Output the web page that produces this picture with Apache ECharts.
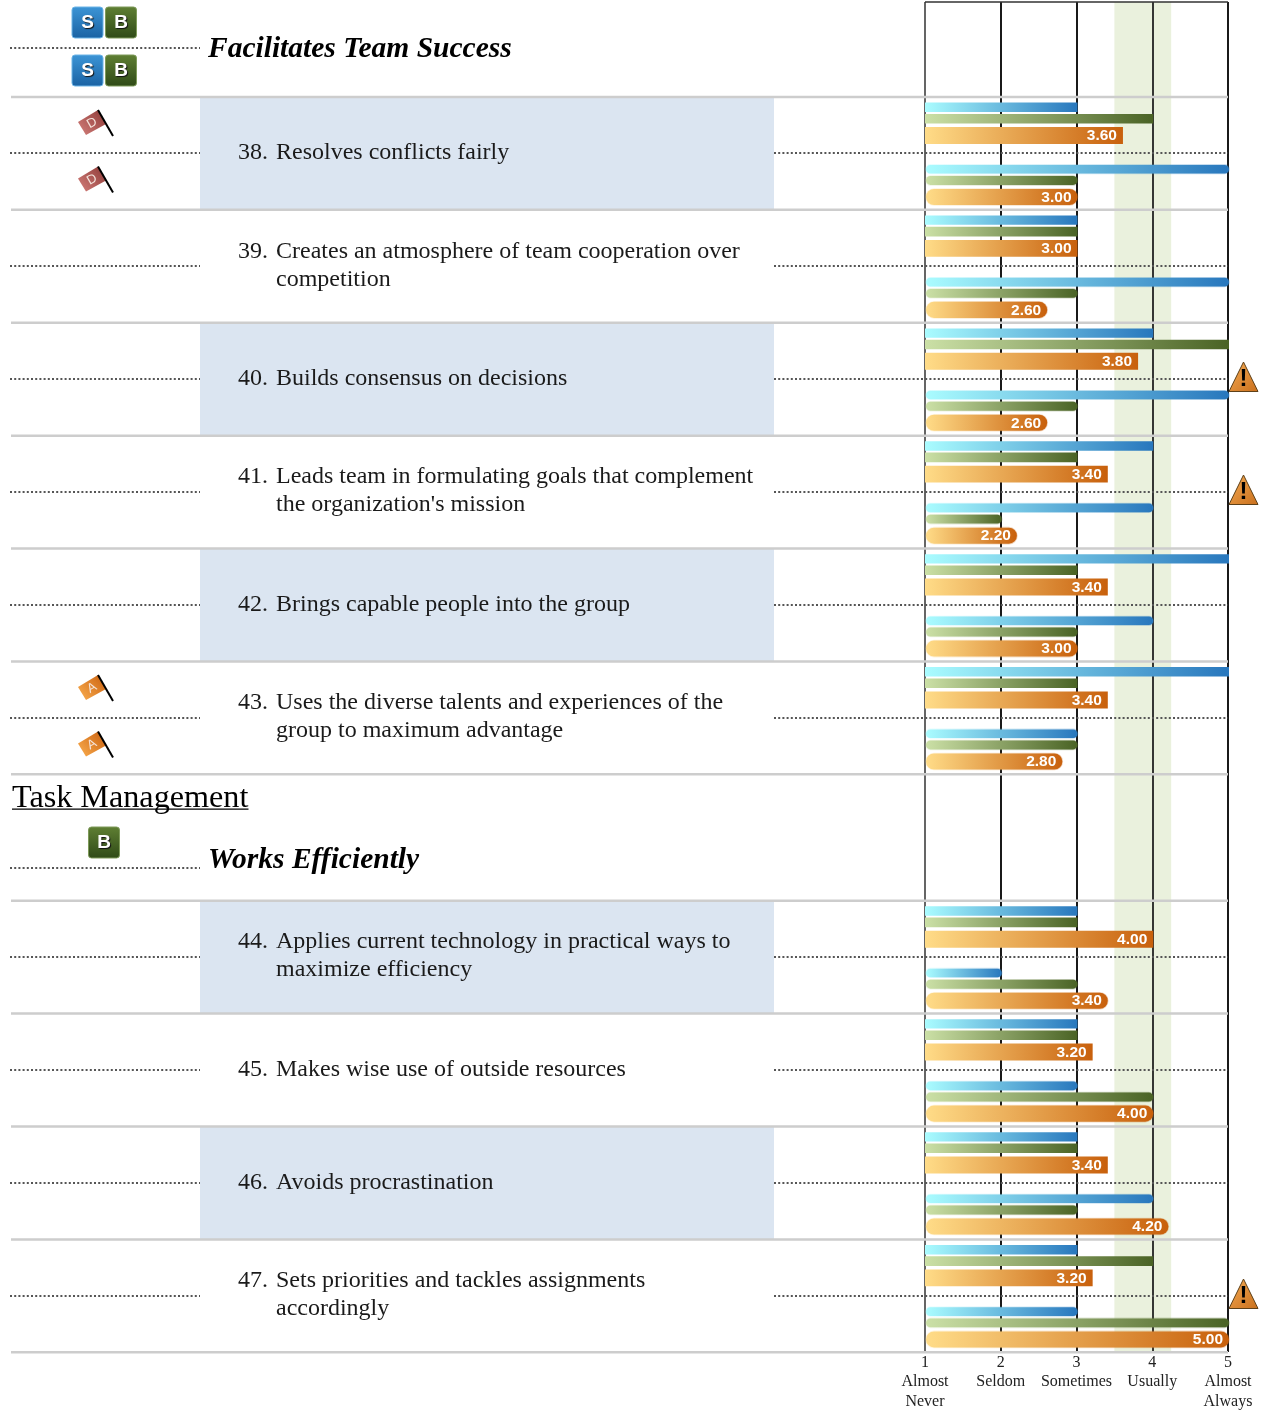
<!DOCTYPE html>
<html>
<head>
<meta charset="utf-8">
<style>html,body{margin:0;padding:0;background:#fff}#chart{width:1267px;height:1416px}</style>
<script src="https://cdn.jsdelivr.net/npm/echarts@6/dist/echarts.min.js"></script>
</head>
<body>
<div id="chart"></div>
<script>
// Rating scale
const tickLabels = ['1\nAlmost\nNever', '2\nSeldom', '3\nSometimes', '4\nUsually', '5\nAlmost\nAlways'];
const targetBand = [3.5, 4.25];

// Survey items
const itemNumbers = ['38.', '39.', '40.', '41.', '42.', '43.', '44.', '45.', '46.', '47.'];
const itemLines = [
  ['Resolves conflicts fairly'],
  ['Creates an atmosphere of team cooperation over', 'competition'],
  ['Builds consensus on decisions'],
  ['Leads team in formulating goals that complement', "the organization's mission"],
  ['Brings capable people into the group'],
  ['Uses the diverse talents and experiences of the', 'group to maximum advantage'],
  ['Applies current technology in practical ways to', 'maximize efficiency'],
  ['Makes wise use of outside resources'],
  ['Avoids procrastination'],
  ['Sets priorities and tackles assignments', 'accordingly']
];

// Scores, upper trio of each item
const upperBlue   = [3, 3, 4, 4, 5, 5, 3, 3, 3, 3];
const upperGreen  = [4, 3, 5, 3, 3, 3, 3, 3, 3, 4];
const upperOrange = [3.6, 3.0, 3.8, 3.4, 3.4, 3.4, 4.0, 3.2, 3.4, 3.2];
// Scores, lower trio of each item
const lowerBlue   = [5, 5, 5, 4, 4, 3, 2, 3, 4, 3];
const lowerGreen  = [3, 3, 3, 2, 3, 3, 3, 4, 3, 5];
const lowerOrange = [3.0, 2.6, 2.6, 2.2, 3.0, 2.8, 3.4, 4.0, 4.2, 5.0];

// Markers per item
const flagLetters = ['D', '', '', '', '', 'A', '', '', '', ''];
const warningItems = [false, false, true, true, false, false, false, false, false, true];

// Vertical layout on the row axis: one unit is one item row
const ROW_PX = 112.9;
const itemStart = [0.841, 1.841, 2.841, 3.841, 4.841, 5.841, 7.96, 8.96, 9.96, 10.96];
const closingRules = [6.841, 11.96];
const headings = [
  { text: 'Facilitates Team Success', pos: 0.407, textShift: 1, badges: [['S', 'B'], ['S', 'B']] },
  { text: 'Works Efficiently', pos: 7.67, textShift: -8, badges: [['B']] }
];
const sectionTitle = { text: 'Task Management', pos: 7.02 };

const SERIF = '"Liberation Serif", "Times New Roman", serif';
const SANS = '"Liberation Sans", Arial, sans-serif';
const G = echarts.graphic;
const ramp = (a, b, v) => new G.LinearGradient(0, 0, v ? 0 : 1, v ? 1 : 0, [{ offset: 0, color: a }, { offset: 1, color: b }]);

const PALETTE = {
  blue: ['#AAFCFF', '#2877BD'],
  green: ['#CBE0A6', '#4A6325'],
  orange: ['#FFDC88', '#C8600C']
};

// Horizontal bar with gradient fill, drawn from the value and row scales
function barSeries(name, values, color, laneTop, laneBottom, rounded, labelled) {
  return {
    type: 'custom', name, z: 4, silent: true, clip: false,
    encode: { x: 0, y: 1 },
    data: values.map((v, i) => [v, itemStart[i] + laneTop, itemStart[i] + laneBottom]),
    renderItem(params, api) {
      const start = api.coord([1, api.value(1)]);
      const end = api.coord([api.value(0), api.value(2)]);
      const x0 = start[0] + (rounded ? 1 : 0);
      const x1 = end[0] + 1;
      const w = x1 - x0, h = end[1] - start[1];
      const r = rounded ? h / 2 : 0;
      const fill = ramp(PALETTE[color][0], PALETTE[color][1]);
      const children = [];
      if (rounded) {
        children.push({ type: 'rect', shape: { x: x0 - 0.8, y: start[1] - 0.8, width: w + 1.6, height: h + 1.6, r: r + 0.8 }, style: { fill, opacity: 0.28 } });
      }
      children.push({ type: 'rect', shape: { x: x0, y: start[1], width: w, height: h, r }, style: { fill } });
      if (labelled) {
        children.push({
          type: 'text', x: x1 - 6, y: start[1] + h / 2 + 0.5,
          style: { text: api.value(0).toFixed(2), fill: '#fff', font: 'bold 15.5px ' + SANS, align: 'right', verticalAlign: 'middle' }
        });
      }
      return { type: 'group', children };
    }
  };
}

// Square status badge
function badge(letter, x, y) {
  const palette = letter === 'S' ? ['#3C95D6', '#1A62A3', '#6DB4E6'] : ['#5F7F33', '#2F4A17', '#7E9A5A'];
  return {
    type: 'group', x, y, children: [
      { type: 'rect', shape: { x: 0, y: 0, width: 31, height: 31, r: 3 }, style: { fill: ramp(palette[0], palette[1], true), stroke: palette[2], lineWidth: 1 } },
      { type: 'text', x: 15.5, y: 16, style: { text: letter, fill: '#fff', font: 'bold 19px ' + SANS, align: 'center', verticalAlign: 'middle', textShadowColor: '#111', textShadowBlur: 1, textShadowOffsetX: 1, textShadowOffsetY: 1 } }
    ]
  };
}

// Small pennant with a letter; origin sits at the middle of the cloth
function flag(letter, x, y) {
  const tones = letter === 'D' ? ['#D4807C', '#8C3835'] : ['#FBAF50', '#C95F0E'];
  return {
    type: 'group', x, y, children: [
      { type: 'polygon', shape: { points: [[-14, -1], [6, -13], [14, 1], [-6, 12]] }, style: { fill: new G.LinearGradient(0, 1, 1, 0, [{ offset: 0, color: tones[0] }, { offset: 1, color: tones[1] }]) } },
      { type: 'line', shape: { x1: 6, y1: -13, x2: 21, y2: 13 }, style: { stroke: '#000', lineWidth: 2 } },
      { type: 'text', x: 0, y: 0, rotation: 0.52, style: { text: letter, fill: '#F4E4DC', font: '13px ' + SANS, align: 'center', verticalAlign: 'middle' } }
    ]
  };
}

// Warning triangle beside the scale
function warning(x, y) {
  return {
    type: 'group', x, y, children: [
      { type: 'polygon', shape: { points: [[0, -17], [-14.5, 12.5], [14.5, 12.5]] }, style: { fill: new G.LinearGradient(0, 0, 1, 1, [{ offset: 0, color: '#F6AC55' }, { offset: 1, color: '#C96F1C' }]), stroke: '#5E4119', lineWidth: 1 } },
      { type: 'text', x: 0, y: 0, style: { text: '!', fill: '#000', font: 'bold 24px ' + SANS, align: 'center', verticalAlign: 'middle' } }
    ]
  };
}

const option = {
  animation: false,
  backgroundColor: '#fff',
  grid: { left: 925, right: 39, top: 2, height: 1350 },
  xAxis: {
    type: 'value', min: 1, max: 5, interval: 1, position: 'bottom',
    axisLine: { show: false }, axisTick: { show: false },
    splitLine: { show: true, lineStyle: { color: ['#555', '#000', '#000', '#222', '#000'], width: 1.8 } },
    axisLabel: {
      margin: 1, color: '#222', fontFamily: SERIF, fontSize: 16, lineHeight: 19.5,
      verticalAlign: 'top', align: 'center', alignMinLabel: 'center', alignMaxLabel: 'center', hideOverlap: false,
      formatter: (v) => tickLabels[Math.round(v) - 1]
    }
  },
  yAxis: { type: 'value', inverse: true, min: 0, max: 1350 / ROW_PX, show: false, splitLine: { show: false } },
  series: [
    // Target zone behind the scale lines, and the frame's top edge
    {
      type: 'custom', name: 'Target zone', z: -1, silent: true, clip: false, data: [targetBand],
      encode: { x: [0, 1] },
      renderItem(params, api) {
        const a = api.coord([api.value(0), 0]);
        const b = api.coord([api.value(1), 1350 / ROW_PX]);
        return { type: 'rect', shape: { x: a[0], y: a[1], width: b[0] - a[0], height: b[1] - a[1] }, style: { fill: '#EAF1DD' } };
      }
    },
    {
      type: 'custom', name: 'Frame', z: 1, silent: true, clip: false, data: [[1, 5]],
      encode: { x: [0, 1] },
      renderItem(params, api) {
        const a = api.coord([1, 0]), b = api.coord([5, 0]);
        return { type: 'line', shape: { x1: a[0], y1: a[1], x2: b[0], y2: b[1] }, style: { stroke: '#333', lineWidth: 1.5 } };
      }
    },
    // Closing rules of the two item blocks
    {
      type: 'custom', name: 'Block rules', z: 1, silent: true, clip: false,
      data: closingRules.map((p) => [5, p]), encode: { x: 0, y: 1 },
      renderItem(params, api) {
        const e = api.coord([5, api.value(1)]);
        return { type: 'line', shape: { x1: 11, y1: e[1], x2: e[0], y2: e[1] }, style: { stroke: '#CDCDCD', lineWidth: 2.5 } };
      }
    },
    // Item rows: shading, rules, leaders, question text and markers
    {
      type: 'custom', name: 'Items', z: 2, silent: true, clip: false,
      data: itemStart.map((p, i) => [5, p, i]), encode: { x: 0, y: 1 },
      renderItem(params, api) {
        const i = api.value(2);
        const top = api.coord([5, api.value(1)]);
        const h = api.size([0, 1])[1];
        const y = top[1];
        const mid = Math.round(y + h / 2);
        const right = top[0];
        const dots = { stroke: '#555', lineWidth: 2, lineDash: [2, 2.2] };
        const children = [];
        if (i % 2 === 0) {
          children.push({ type: 'rect', shape: { x: 200, y, width: 574, height: h }, style: { fill: '#DBE5F1' } });
        }
        children.push({ type: 'line', shape: { x1: 11, y1: y, x2: right, y2: y }, style: { stroke: '#CDCDCD', lineWidth: 2.5 } });
        children.push({ type: 'line', shape: { x1: 10, y1: mid, x2: 200, y2: mid }, style: dots });
        children.push({ type: 'line', shape: { x1: 774, y1: mid, x2: right, y2: mid }, style: dots });
        const lines = itemLines[i];
        const firstY = lines.length === 1 ? y + 56 : y + 41.5;
        children.push({ type: 'text', x: 238, y: firstY, style: { text: itemNumbers[i], fill: '#1a1a1a', font: '24px ' + SERIF, verticalAlign: 'middle' } });
        lines.forEach((line, k) => {
          children.push({ type: 'text', x: 276, y: firstY + 28 * k, style: { text: line, fill: '#1a1a1a', font: '24px ' + SERIF, verticalAlign: 'middle' } });
        });
        if (flagLetters[i]) {
          children.push(flag(flagLetters[i], 92, mid - 30));
          children.push(flag(flagLetters[i], 92, mid + 26.5));
        }
        if (warningItems[i]) {
          children.push(warning(1243.5, mid));
        }
        return { type: 'group', children };
      }
    },
    // Sub-headings with their badges
    {
      type: 'custom', name: 'Headings', z: 2, silent: true, clip: false,
      data: headings.map((h, i) => [1, h.pos, i]), encode: { x: 0, y: 1 },
      renderItem(params, api) {
        const head = headings[api.value(2)];
        const y = Math.round(api.coord([1, api.value(1)])[1]);
        const children = [
          { type: 'line', shape: { x1: 10, y1: y, x2: 200, y2: y }, style: { stroke: '#555', lineWidth: 2, lineDash: [2, 2.2] } },
          { type: 'text', x: 208, y: y + head.textShift, style: { text: head.text, fill: '#000', font: 'italic bold 29.5px ' + SERIF, verticalAlign: 'middle' } }
        ];
        head.badges.forEach((letters, row) => {
          const by = row === 0 ? y - 41 : y + 7;
          letters.forEach((letter, k) => {
            const bx = letters.length === 1 ? 88.5 : 72 + 33.5 * k;
            children.push(badge(letter, bx, by));
          });
        });
        return { type: 'group', children };
      }
    },
    // Section title
    {
      type: 'custom', name: 'Section', z: 2, silent: true, clip: false,
      data: [[1, sectionTitle.pos]], encode: { x: 0, y: 1 },
      renderItem(params, api) {
        const y = api.coord([1, api.value(1)])[1];
        return {
          type: 'group', children: [
            { type: 'text', x: 12, y: y + 3.5, style: { text: sectionTitle.text, fill: '#000', font: '32.2px ' + SERIF, verticalAlign: 'middle' } },
            { type: 'line', shape: { x1: 12, y1: y + 14.5, x2: 248.5, y2: y + 14.5 }, style: { stroke: '#000', lineWidth: 1.3 } }
          ]
        };
      }
    },
    barSeries('Upper blue', upperBlue, 'blue', 0.050, 0.133, false, false),
    barSeries('Upper green', upperGreen, 'green', 0.150, 0.235, false, false),
    barSeries('Upper orange', upperOrange, 'orange', 0.266, 0.416, false, true),
    barSeries('Lower blue', lowerBlue, 'blue', 0.602, 0.678, true, false),
    barSeries('Lower green', lowerGreen, 'green', 0.700, 0.779, true, false),
    barSeries('Lower orange', lowerOrange, 'orange', 0.815, 0.957, true, true)
  ]
};

echarts.init(document.getElementById('chart')).setOption(option);
</script>
</body>
</html>
